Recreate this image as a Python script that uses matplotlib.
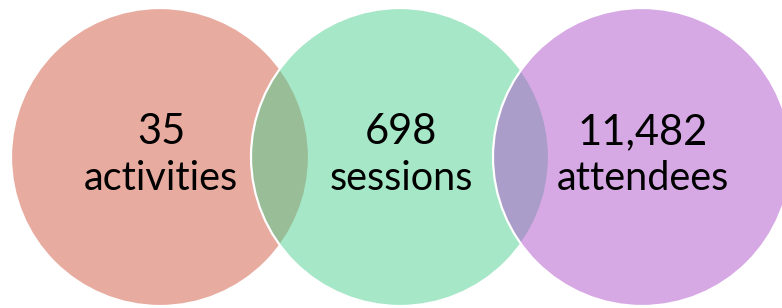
import matplotlib.pyplot as plt
from matplotlib.patches import Circle

# the three figures shown in the overlapping circles
values = ["35", "698", "11,482"]
labels = ["activities", "sessions", "attendees"]
colors = ["#D15941", "#4DD191", "#AF55CD"]

# circle layout in pixels
centers_x = [160, 400, 642]
center_y = 157
radius = 149

fig = plt.figure(figsize=(7.82, 3.08), dpi=100)
ax = fig.add_axes([0, 0, 1, 1])
ax.set_xlim(0, 782)
ax.set_ylim(308, 0)
ax.set_aspect("equal")
ax.axis("off")

for i, (cx, col) in enumerate(zip(centers_x, colors)):
    ax.add_patch(Circle((cx, center_y), radius, facecolor=col, alpha=0.5,
                        edgecolor="none", zorder=i + 1))
    # white rim drawn on top, without the transparency
    ax.add_patch(Circle((cx, center_y), radius, facecolor="none",
                        edgecolor="white", linewidth=1.6, zorder=i + 1))

for cx, v, lab in zip(centers_x, values, labels):
    ax.text(cx + 1, 132, v, ha="center", va="center", fontsize=30,
            family="Lato", color="black", zorder=10)
    ax.text(cx + 1, 178, lab, ha="center", va="center", fontsize=28.5,
            family="Lato", color="black", zorder=10)

fig.savefig("out.png", dpi=100)
